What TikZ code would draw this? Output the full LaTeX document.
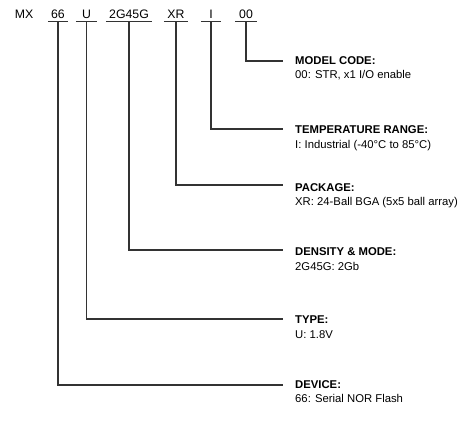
\documentclass[tikz,border=0pt]{standalone}
\usepackage{fontspec}
\setmainfont{Liberation Sans}
\begin{document}
\begin{tikzpicture}[x=1pt,y=-1pt,
  seg/.style={inner xsep=0pt,inner ysep=2.5pt,text height=9pt,text depth=0pt,font=\fontsize{12.3}{14}\selectfont},
  uline/.style={draw=black!80,line width=1.1pt},
  conn/.style={draw=black!80,line width=1.3pt},
  head/.style={anchor=west,inner sep=0pt,text height=8.2pt,text depth=0pt,font=\fontsize{11.3}{13}\selectfont\bfseries},
  desc/.style={anchor=west,inner sep=0pt,text height=8.2pt,text depth=0pt,font=\fontsize{11.3}{13}\selectfont}]
\useasboundingbox (0,0) rectangle (474,423);
% part number segments
\node[seg] (mx) at (24,14) {MX};
\node[seg,minimum width=20pt] (s66) at (58,14) {66};
\node[seg,minimum width=21pt] (su) at (86.5,14) {U};
\node[seg,minimum width=46pt] (sden) at (129,14) {2G45G};
\node[seg,minimum width=24pt] (sxr) at (176,14) {XR};
\node[seg,minimum width=20pt] (si) at (211,14) {I};
\node[seg,minimum width=21pt] (s00) at (246,14) {00};
\foreach \n in {s66,su,sden,sxr,si,s00}
  \draw[uline] (\n.south west) -- (\n.south east);
% labels
\node[head] (hmod) at (295,60) {MODEL CODE:};
\node[desc] (dmod) at (295,74) {00: STR, x1 I/O enable};
\node[head] (htmp) at (295,129) {TEMPERATURE RANGE:};
\node[desc] (dtmp) at (295,144) {I: Industrial (-40°C to 85°C)};
\node[head] (hpkg) at (295,187) {PACKAGE:};
\node[desc] (dpkg) at (295,201) {XR: 24-Ball BGA (5x5 ball array)};
\node[head] (hden) at (295,251) {DENSITY \& MODE:};
\node[desc] (dden) at (295,266) {2G45G: 2Gb};
\node[head] (htyp) at (295,319) {TYPE:};
\node[desc] (dtyp) at (295,334) {U: 1.8V};
\node[head] (hdev) at (295,384) {DEVICE:};
\node[desc] (ddev) at (295,398) {66: Serial NOR Flash};
% connectors
\draw[conn] (s00.south) |- ([xshift=-12pt,yshift=-1pt]hmod.west);
\draw[conn] (si.south) |- ([xshift=-12pt]htmp.west);
\draw[conn] (sxr.south) |- ([xshift=-12pt,yshift=2pt]hpkg.west);
\draw[conn] (sden.south) |- ([xshift=-12pt,yshift=1pt]hden.west);
\draw[conn] (su.south) |- ([xshift=-12pt]htyp.west);
\draw[conn] (s66.south) |- ([xshift=-12pt,yshift=-1pt]hdev.west);
\end{tikzpicture}
\end{document}
